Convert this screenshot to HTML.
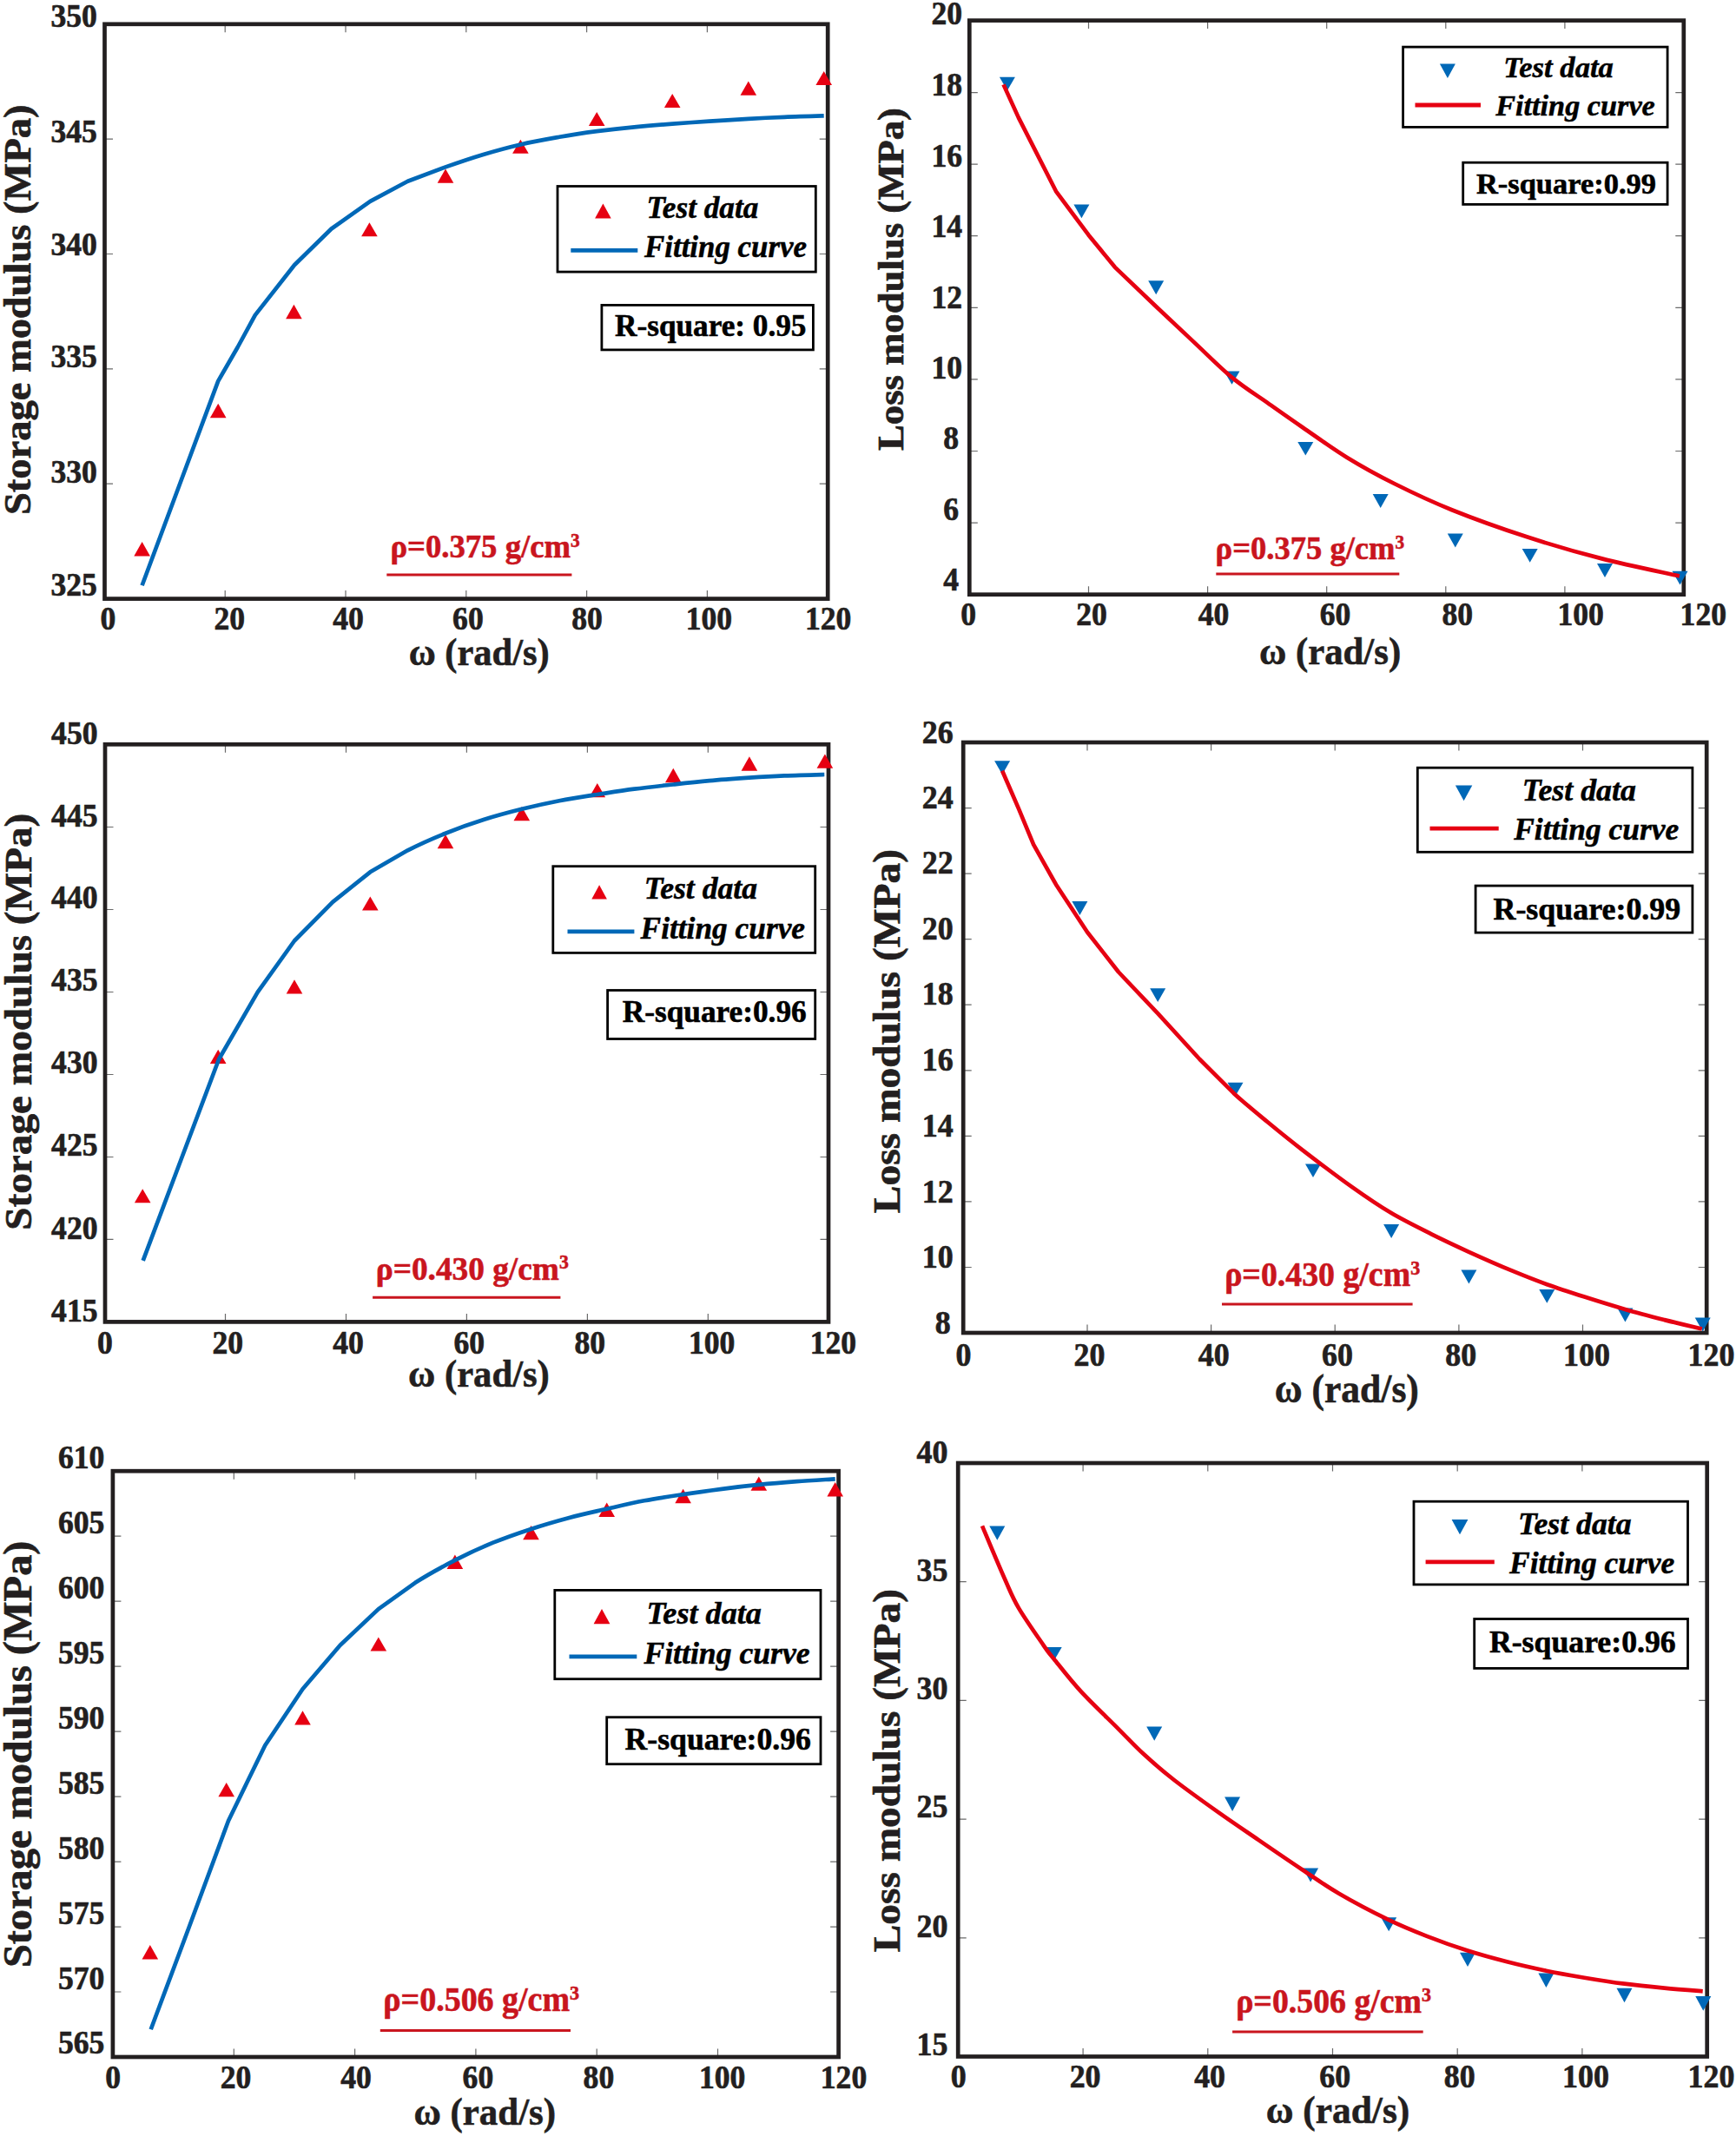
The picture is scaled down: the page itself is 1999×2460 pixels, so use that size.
<!DOCTYPE html>
<html lang="en"><head><meta charset="utf-8"><title>Storage and loss modulus fitting curves</title>
<style>
html,body{margin:0;padding:0;background:#fff}
svg{display:block}
svg text{font-family:"Liberation Serif", "DejaVu Serif", serif;font-weight:bold}
</style></head><body>
<svg width="1999" height="2460" viewBox="0 0 1999 2460">
<rect width="1999" height="2460" fill="#fff"/>
<g>
<path d='M259.2,27.8v9.5 M259.2,689.6v-9.5' stroke='#6a6a6a' stroke-width='1.2' fill='none'/>
<path d='M398.0,27.8v9.5 M398.0,689.6v-9.5' stroke='#6a6a6a' stroke-width='1.2' fill='none'/>
<path d='M536.8,27.8v9.5 M536.8,689.6v-9.5' stroke='#6a6a6a' stroke-width='1.2' fill='none'/>
<path d='M675.6,27.8v9.5 M675.6,689.6v-9.5' stroke='#6a6a6a' stroke-width='1.2' fill='none'/>
<path d='M814.4,27.8v9.5 M814.4,689.6v-9.5' stroke='#6a6a6a' stroke-width='1.2' fill='none'/>
<path d='M120.5,160.2h9.5 M953.2,160.2h-9.5' stroke='#6a6a6a' stroke-width='1.2' fill='none'/>
<path d='M120.5,292.5h9.5 M953.2,292.5h-9.5' stroke='#6a6a6a' stroke-width='1.2' fill='none'/>
<path d='M120.5,424.8h9.5 M953.2,424.8h-9.5' stroke='#6a6a6a' stroke-width='1.2' fill='none'/>
<path d='M120.5,557.2h9.5 M953.2,557.2h-9.5' stroke='#6a6a6a' stroke-width='1.2' fill='none'/>
<rect x='120.5' y='27.8' width='832.7' height='661.8' fill='none' stroke='#231f20' stroke-width='4.7'/>
<polygon points='163.6,624.0 154.3,640.5 172.9,640.5' fill='#e60012'/>
<polygon points='251.2,464.8 241.9,481.2 260.5,481.2' fill='#e60012'/>
<polygon points='338.4,350.8 329.1,367.2 347.7,367.2' fill='#e60012'/>
<polygon points='425.4,256.3 416.1,272.2 434.7,272.2' fill='#e60012'/>
<polygon points='513.0,194.4 503.7,210.7 522.3,210.7' fill='#e60012'/>
<polygon points='599.4,160.7 590.1,176.8 608.7,176.8' fill='#e60012'/>
<polygon points='687.2,129.0 677.9,145.1 696.5,145.1' fill='#e60012'/>
<polygon points='774.2,108.0 764.9,124.1 783.5,124.1' fill='#e60012'/>
<polygon points='861.8,93.6 852.5,109.7 871.1,109.7' fill='#e60012'/>
<polygon points='948.7,82.0 939.4,98.1 958.0,98.1' fill='#e60012'/>
<path d='M163.6,674.2 L207.4,556.5 L251.2,438.9 L273.6,400.0 L293.8,362.9 L339.0,305.3 L381.6,263.5 L426.3,231.9 L469.5,208.8 L513.0,192.4 C527.5,187.3 542.1,182.3 556.5,178.0 C570.9,173.7 584.8,169.9 599.4,166.5 C614.0,163.1 629.4,160.4 644.0,157.8 C658.6,155.2 672.8,153.1 687.2,151.2 C701.6,149.3 715.9,147.7 730.4,146.3 C744.9,144.9 759.8,143.7 774.2,142.6 C788.6,141.5 802.2,140.7 816.8,139.7 C831.4,138.7 847.4,137.6 861.8,136.8 C876.2,136.0 888.7,135.4 903.2,134.8 C917.7,134.2 941.1,133.6 948.7,133.4' stroke='#0068b7' stroke-width='4.7' fill='none' stroke-linejoin='round'/>
<text transform='translate(111.9,31.1) scale(0.95,1)' font-size='37.5' text-anchor='end' fill='#231f20' stroke='#231f20' stroke-width='0.7'>350</text>
<text transform='translate(111.9,163.6) scale(0.95,1)' font-size='37.5' text-anchor='end' fill='#231f20' stroke='#231f20' stroke-width='0.7'>345</text>
<text transform='translate(111.9,293.8) scale(0.95,1)' font-size='37.5' text-anchor='end' fill='#231f20' stroke='#231f20' stroke-width='0.7'>340</text>
<text transform='translate(111.9,423.0) scale(0.95,1)' font-size='37.5' text-anchor='end' fill='#231f20' stroke='#231f20' stroke-width='0.7'>335</text>
<text transform='translate(111.9,555.5) scale(0.95,1)' font-size='37.5' text-anchor='end' fill='#231f20' stroke='#231f20' stroke-width='0.7'>330</text>
<text transform='translate(111.9,686.0) scale(0.95,1)' font-size='37.5' text-anchor='end' fill='#231f20' stroke='#231f20' stroke-width='0.7'>325</text>
<text transform='translate(124.4,724.9) scale(0.95,1)' font-size='37.5' text-anchor='middle' fill='#231f20' stroke='#231f20' stroke-width='0.7'>0</text>
<text transform='translate(264.3,724.9) scale(0.95,1)' font-size='37.5' text-anchor='middle' fill='#231f20' stroke='#231f20' stroke-width='0.7'>20</text>
<text transform='translate(401.0,724.9) scale(0.95,1)' font-size='37.5' text-anchor='middle' fill='#231f20' stroke='#231f20' stroke-width='0.7'>40</text>
<text transform='translate(538.9,724.9) scale(0.95,1)' font-size='37.5' text-anchor='middle' fill='#231f20' stroke='#231f20' stroke-width='0.7'>60</text>
<text transform='translate(676.1,724.9) scale(0.95,1)' font-size='37.5' text-anchor='middle' fill='#231f20' stroke='#231f20' stroke-width='0.7'>80</text>
<text transform='translate(816.4,724.9) scale(0.95,1)' font-size='37.5' text-anchor='middle' fill='#231f20' stroke='#231f20' stroke-width='0.7'>100</text>
<text transform='translate(953.6,724.9) scale(0.95,1)' font-size='37.5' text-anchor='middle' fill='#231f20' stroke='#231f20' stroke-width='0.7'>120</text>
<text transform='translate(470.70,765.80) scale(0.96,1)' font-size='44.24' fill='#231f20' stroke='#231f20' stroke-width='0.6'>ω (rad/s)</text>
<text transform='translate(34.70,593.03) rotate(-90) scale(1,0.94)' font-size='46.50' fill='#231f20' stroke='#231f20' stroke-width='0.7'>Storage modulus (MPa)</text>
<rect x='642.0' y='214.5' width='297.3' height='98.6' fill='#fff' stroke='#000' stroke-width='2.8'/>
<polygon points='694.4,234.5 685.1,251.6 703.7,251.6' fill='#e60012'/>
<text x='744.53' y='251.40' font-size='35.22' font-style='italic' fill='#000' stroke='#000' stroke-width='0.5'>Test data</text>
<text x='742.00' y='296.10' font-size='34.89' font-style='italic' fill='#000' stroke='#000' stroke-width='0.5'>Fitting curve</text>
<path d='M657.3,288.4H734.3' stroke='#0068b7' stroke-width='4.8'/>
<rect x='692.9' y='351.4' width='243.5' height='51.5' fill='#fff' stroke='#000' stroke-width='2.8'/>
<text x='708.10' y='387.40' font-size='35.21' fill='#000' stroke='#000' stroke-width='0.6'>R-square: 0.95</text>
<text transform='translate(449.40,642.00) scale(0.96,1)' font-size='38.22' fill='#c9151e' stroke='#c9151e' stroke-width='0.6'>ρ=0.375 g/cm<tspan font-size='58%' dy='-0.56em'>3</tspan></text>
<path d='M445.3,662.0H658.4' stroke='#c9151e' stroke-width='3'/>
</g>
<g>
<path d='M1253.5,23.6v9.5 M1253.5,684.7v-9.5' stroke='#6a6a6a' stroke-width='1.2' fill='none'/>
<path d='M1390.6,23.6v9.5 M1390.6,684.7v-9.5' stroke='#6a6a6a' stroke-width='1.2' fill='none'/>
<path d='M1527.7,23.6v9.5 M1527.7,684.7v-9.5' stroke='#6a6a6a' stroke-width='1.2' fill='none'/>
<path d='M1664.8,23.6v9.5 M1664.8,684.7v-9.5' stroke='#6a6a6a' stroke-width='1.2' fill='none'/>
<path d='M1801.9,23.6v9.5 M1801.9,684.7v-9.5' stroke='#6a6a6a' stroke-width='1.2' fill='none'/>
<path d='M1116.3,106.6h9.5 M1938.8,106.6h-9.5' stroke='#6a6a6a' stroke-width='1.2' fill='none'/>
<path d='M1116.3,189.2h9.5 M1938.8,189.2h-9.5' stroke='#6a6a6a' stroke-width='1.2' fill='none'/>
<path d='M1116.3,271.7h9.5 M1938.8,271.7h-9.5' stroke='#6a6a6a' stroke-width='1.2' fill='none'/>
<path d='M1116.3,354.3h9.5 M1938.8,354.3h-9.5' stroke='#6a6a6a' stroke-width='1.2' fill='none'/>
<path d='M1116.3,436.9h9.5 M1938.8,436.9h-9.5' stroke='#6a6a6a' stroke-width='1.2' fill='none'/>
<path d='M1116.3,519.5h9.5 M1938.8,519.5h-9.5' stroke='#6a6a6a' stroke-width='1.2' fill='none'/>
<path d='M1116.3,602.1h9.5 M1938.8,602.1h-9.5' stroke='#6a6a6a' stroke-width='1.2' fill='none'/>
<rect x='1116.3' y='23.6' width='822.5' height='661.1' fill='none' stroke='#231f20' stroke-width='4.7'/>
<polygon points='1150.9,88.7 1168.9,88.7 1159.9,104.2' fill='#0068b7'/>
<polygon points='1236.4,235.6 1254.4,235.6 1245.4,251.2' fill='#0068b7'/>
<polygon points='1322.2,323.2 1340.2,323.2 1331.2,339.3' fill='#0068b7'/>
<polygon points='1409.5,427.4 1427.5,427.4 1418.5,442.8' fill='#0068b7'/>
<polygon points='1494.3,508.9 1512.3,508.9 1503.3,524.4' fill='#0068b7'/>
<polygon points='1580.7,569.0 1598.7,569.0 1589.7,585.0' fill='#0068b7'/>
<polygon points='1666.8,614.6 1684.8,614.6 1675.8,630.4' fill='#0068b7'/>
<polygon points='1752.7,631.9 1770.7,631.9 1761.7,647.7' fill='#0068b7'/>
<polygon points='1839.0,649.1 1857.0,649.1 1848.0,665.0' fill='#0068b7'/>
<polygon points='1925.5,657.8 1943.5,657.8 1934.5,673.6' fill='#0068b7'/>
<path d='M1155.5,97.4 L1172.8,135.4 L1216.0,220.3 L1253.5,270.7 L1283.7,307.6 L1331.2,353.0 L1374.4,393.6 C1389.0,407.2 1404.1,422.7 1418.5,434.6 C1432.9,446.5 1447.2,455.2 1460.8,464.8 C1474.4,474.4 1485.0,481.9 1500.0,492.2 C1515.0,502.5 1533.2,515.9 1550.8,526.7 C1568.4,537.5 1585.4,546.9 1605.6,557.0 C1625.8,567.1 1646.4,577.0 1671.8,587.2 C1697.2,597.4 1729.4,608.9 1758.2,618.3 C1787.0,627.7 1815.3,635.9 1844.6,643.4 C1873.9,650.9 1919.0,660.1 1933.9,663.5' stroke='#e60012' stroke-width='4.7' fill='none' stroke-linejoin='round'/>
<text transform='translate(1108.1,28.4) scale(0.95,1)' font-size='37.5' text-anchor='end' fill='#231f20' stroke='#231f20' stroke-width='0.7'>20</text>
<text transform='translate(1108.1,110.2) scale(0.95,1)' font-size='37.5' text-anchor='end' fill='#231f20' stroke='#231f20' stroke-width='0.7'>18</text>
<text transform='translate(1108.1,192.0) scale(0.95,1)' font-size='37.5' text-anchor='end' fill='#231f20' stroke='#231f20' stroke-width='0.7'>16</text>
<text transform='translate(1108.1,273.2) scale(0.95,1)' font-size='37.5' text-anchor='end' fill='#231f20' stroke='#231f20' stroke-width='0.7'>14</text>
<text transform='translate(1108.1,354.7) scale(0.95,1)' font-size='37.5' text-anchor='end' fill='#231f20' stroke='#231f20' stroke-width='0.7'>12</text>
<text transform='translate(1108.1,435.6) scale(0.95,1)' font-size='37.5' text-anchor='end' fill='#231f20' stroke='#231f20' stroke-width='0.7'>10</text>
<text transform='translate(1104.1,517.0) scale(0.95,1)' font-size='37.5' text-anchor='end' fill='#231f20' stroke='#231f20' stroke-width='0.7'>8</text>
<text transform='translate(1104.1,598.7) scale(0.95,1)' font-size='37.5' text-anchor='end' fill='#231f20' stroke='#231f20' stroke-width='0.7'>6</text>
<text transform='translate(1104.1,680.2) scale(0.95,1)' font-size='37.5' text-anchor='end' fill='#231f20' stroke='#231f20' stroke-width='0.7'>4</text>
<text transform='translate(1115.2,720.3) scale(0.95,1)' font-size='37.5' text-anchor='middle' fill='#231f20' stroke='#231f20' stroke-width='0.7'>0</text>
<text transform='translate(1257.0,720.3) scale(0.95,1)' font-size='37.5' text-anchor='middle' fill='#231f20' stroke='#231f20' stroke-width='0.7'>20</text>
<text transform='translate(1397.5,720.3) scale(0.95,1)' font-size='37.5' text-anchor='middle' fill='#231f20' stroke='#231f20' stroke-width='0.7'>40</text>
<text transform='translate(1537.6,720.3) scale(0.95,1)' font-size='37.5' text-anchor='middle' fill='#231f20' stroke='#231f20' stroke-width='0.7'>60</text>
<text transform='translate(1678.3,720.3) scale(0.95,1)' font-size='37.5' text-anchor='middle' fill='#231f20' stroke='#231f20' stroke-width='0.7'>80</text>
<text transform='translate(1820.1,720.3) scale(0.95,1)' font-size='37.5' text-anchor='middle' fill='#231f20' stroke='#231f20' stroke-width='0.7'>100</text>
<text transform='translate(1961.3,720.3) scale(0.95,1)' font-size='37.5' text-anchor='middle' fill='#231f20' stroke='#231f20' stroke-width='0.7'>120</text>
<text transform='translate(1449.89,765.20) scale(0.96,1)' font-size='44.60' fill='#231f20' stroke='#231f20' stroke-width='0.6'>ω (rad/s)</text>
<text transform='translate(1040.00,518.99) rotate(-90) scale(1,0.94)' font-size='44.72' fill='#231f20' stroke='#231f20' stroke-width='0.7'>Loss modulus (MPa)</text>
<rect x='1615.6' y='54.1' width='304.5' height='92.3' fill='#fff' stroke='#000' stroke-width='2.8'/>
<polygon points='1657.9,73.4 1675.9,73.4 1666.9,89.9' fill='#0068b7'/>
<text x='1731.28' y='89.30' font-size='34.63' font-style='italic' fill='#000' stroke='#000' stroke-width='0.5'>Test data</text>
<text x='1722.20' y='133.00' font-size='34.25' font-style='italic' fill='#000' stroke='#000' stroke-width='0.5'>Fitting curve</text>
<path d='M1629.5,121.0H1705.0' stroke='#e60012' stroke-width='4.8'/>
<rect x='1684.7' y='187.2' width='235.4' height='48.2' fill='#fff' stroke='#000' stroke-width='2.8'/>
<text x='1699.91' y='223.20' font-size='34.47' fill='#000' stroke='#000' stroke-width='0.6'>R-square:0.99</text>
<text transform='translate(1399.61,644.20) scale(0.96,1)' font-size='38.10' fill='#c9151e' stroke='#c9151e' stroke-width='0.6'>ρ=0.375 g/cm<tspan font-size='58%' dy='-0.56em'>3</tspan></text>
<path d='M1400.3,661.0H1611.3' stroke='#c9151e' stroke-width='3'/>
</g>
<g>
<path d='M259.5,857.3v9.5 M259.5,1522.4v-9.5' stroke='#6a6a6a' stroke-width='1.2' fill='none'/>
<path d='M398.5,857.3v9.5 M398.5,1522.4v-9.5' stroke='#6a6a6a' stroke-width='1.2' fill='none'/>
<path d='M537.4,857.3v9.5 M537.4,1522.4v-9.5' stroke='#6a6a6a' stroke-width='1.2' fill='none'/>
<path d='M676.4,857.3v9.5 M676.4,1522.4v-9.5' stroke='#6a6a6a' stroke-width='1.2' fill='none'/>
<path d='M815.3,857.3v9.5 M815.3,1522.4v-9.5' stroke='#6a6a6a' stroke-width='1.2' fill='none'/>
<path d='M121.0,952.5h9.5 M954.0,952.5h-9.5' stroke='#6a6a6a' stroke-width='1.2' fill='none'/>
<path d='M121.0,1047.5h9.5 M954.0,1047.5h-9.5' stroke='#6a6a6a' stroke-width='1.2' fill='none'/>
<path d='M121.0,1142.5h9.5 M954.0,1142.5h-9.5' stroke='#6a6a6a' stroke-width='1.2' fill='none'/>
<path d='M121.0,1237.5h9.5 M954.0,1237.5h-9.5' stroke='#6a6a6a' stroke-width='1.2' fill='none'/>
<path d='M121.0,1332.5h9.5 M954.0,1332.5h-9.5' stroke='#6a6a6a' stroke-width='1.2' fill='none'/>
<path d='M121.0,1427.4h9.5 M954.0,1427.4h-9.5' stroke='#6a6a6a' stroke-width='1.2' fill='none'/>
<rect x='121.0' y='857.3' width='833.0' height='665.1' fill='none' stroke='#231f20' stroke-width='4.7'/>
<polygon points='164.2,1369.2 154.9,1385.2 173.5,1385.2' fill='#e60012'/>
<polygon points='251.2,1208.8 241.9,1225.0 260.5,1225.0' fill='#e60012'/>
<polygon points='339.0,1128.2 329.7,1144.6 348.3,1144.6' fill='#e60012'/>
<polygon points='426.3,1032.6 417.0,1048.6 435.6,1048.6' fill='#e60012'/>
<polygon points='513.0,961.1 503.7,977.2 522.3,977.2' fill='#e60012'/>
<polygon points='600.8,928.9 591.5,945.3 610.1,945.3' fill='#e60012'/>
<polygon points='687.8,902.1 678.5,918.2 697.1,918.2' fill='#e60012'/>
<polygon points='775.3,884.8 766.0,901.2 784.6,901.2' fill='#e60012'/>
<polygon points='862.9,871.3 853.6,887.7 872.2,887.7' fill='#e60012'/>
<polygon points='949.9,868.4 940.6,884.8 959.2,884.8' fill='#e60012'/>
<path d='M164.7,1451.9 L208.3,1336.0 L252.0,1220.0 L296.7,1142.6 L339.0,1083.5 L383.1,1038.9 L426.3,1004.3 L469.5,979.3 C483.9,971.9 498.3,965.6 513.0,959.7 C527.7,953.8 543.0,948.4 557.6,943.8 C572.2,939.1 586.4,935.4 600.8,931.8 C615.2,928.2 629.5,925.0 644.0,922.2 C658.5,919.4 673.4,917.2 687.8,915.0 C702.2,912.8 715.8,910.6 730.4,908.7 C745.0,906.8 760.9,905.1 775.3,903.5 C789.7,901.9 802.2,900.5 816.8,899.2 C831.4,897.9 848.5,896.7 862.9,895.7 C877.3,894.7 888.8,894.0 903.2,893.4 C917.6,892.8 941.6,892.2 949.3,892.0' stroke='#0068b7' stroke-width='4.7' fill='none' stroke-linejoin='round'/>
<text transform='translate(112.5,856.9) scale(0.95,1)' font-size='37.5' text-anchor='end' fill='#231f20' stroke='#231f20' stroke-width='0.7'>450</text>
<text transform='translate(112.5,951.9) scale(0.95,1)' font-size='37.5' text-anchor='end' fill='#231f20' stroke='#231f20' stroke-width='0.7'>445</text>
<text transform='translate(112.5,1046.1) scale(0.95,1)' font-size='37.5' text-anchor='end' fill='#231f20' stroke='#231f20' stroke-width='0.7'>440</text>
<text transform='translate(112.5,1141.1) scale(0.95,1)' font-size='37.5' text-anchor='end' fill='#231f20' stroke='#231f20' stroke-width='0.7'>435</text>
<text transform='translate(112.5,1235.8) scale(0.95,1)' font-size='37.5' text-anchor='end' fill='#231f20' stroke='#231f20' stroke-width='0.7'>430</text>
<text transform='translate(112.5,1330.9) scale(0.95,1)' font-size='37.5' text-anchor='end' fill='#231f20' stroke='#231f20' stroke-width='0.7'>425</text>
<text transform='translate(112.5,1426.8) scale(0.95,1)' font-size='37.5' text-anchor='end' fill='#231f20' stroke='#231f20' stroke-width='0.7'>420</text>
<text transform='translate(112.5,1521.8) scale(0.95,1)' font-size='37.5' text-anchor='end' fill='#231f20' stroke='#231f20' stroke-width='0.7'>415</text>
<text transform='translate(121.0,1559.3) scale(0.95,1)' font-size='37.5' text-anchor='middle' fill='#231f20' stroke='#231f20' stroke-width='0.7'>0</text>
<text transform='translate(262.2,1559.3) scale(0.95,1)' font-size='37.5' text-anchor='middle' fill='#231f20' stroke='#231f20' stroke-width='0.7'>20</text>
<text transform='translate(401.0,1559.3) scale(0.95,1)' font-size='37.5' text-anchor='middle' fill='#231f20' stroke='#231f20' stroke-width='0.7'>40</text>
<text transform='translate(540.3,1559.3) scale(0.95,1)' font-size='37.5' text-anchor='middle' fill='#231f20' stroke='#231f20' stroke-width='0.7'>60</text>
<text transform='translate(679.3,1559.3) scale(0.95,1)' font-size='37.5' text-anchor='middle' fill='#231f20' stroke='#231f20' stroke-width='0.7'>80</text>
<text transform='translate(819.7,1559.3) scale(0.95,1)' font-size='37.5' text-anchor='middle' fill='#231f20' stroke='#231f20' stroke-width='0.7'>100</text>
<text transform='translate(959.4,1559.3) scale(0.95,1)' font-size='37.5' text-anchor='middle' fill='#231f20' stroke='#231f20' stroke-width='0.7'>120</text>
<text transform='translate(470.09,1597.30) scale(0.96,1)' font-size='44.46' fill='#231f20' stroke='#231f20' stroke-width='0.6'>ω (rad/s)</text>
<text transform='translate(36.00,1416.76) rotate(-90) scale(1,0.94)' font-size='47.24' fill='#231f20' stroke='#231f20' stroke-width='0.7'>Storage modulus (MPa)</text>
<rect x='636.8' y='997.7' width='301.9' height='99.7' fill='#fff' stroke='#000' stroke-width='2.8'/>
<polygon points='690.1,1019.3 681.3,1035.4 698.9,1035.4' fill='#e60012'/>
<text x='741.71' y='1035.40' font-size='35.62' font-style='italic' fill='#000' stroke='#000' stroke-width='0.5'>Test data</text>
<text x='737.60' y='1080.70' font-size='35.34' font-style='italic' fill='#000' stroke='#000' stroke-width='0.5'>Fitting curve</text>
<path d='M653.5,1072.9H730.4' stroke='#0068b7' stroke-width='4.8'/>
<rect x='699.6' y='1140.5' width='239.1' height='56.0' fill='#fff' stroke='#000' stroke-width='2.8'/>
<text x='716.79' y='1177.10' font-size='35.27' fill='#000' stroke='#000' stroke-width='0.6'>R-square:0.96</text>
<text transform='translate(432.66,1473.50) scale(0.96,1)' font-size='38.90' fill='#c9151e' stroke='#c9151e' stroke-width='0.6'>ρ=0.430 g/cm<tspan font-size='58%' dy='-0.56em'>3</tspan></text>
<path d='M429.1,1494.3H645.4' stroke='#c9151e' stroke-width='3'/>
</g>
<g>
<path d='M1252.0,855.0v9.5 M1252.0,1535.0v-9.5' stroke='#6a6a6a' stroke-width='1.2' fill='none'/>
<path d='M1394.6,855.0v9.5 M1394.6,1535.0v-9.5' stroke='#6a6a6a' stroke-width='1.2' fill='none'/>
<path d='M1537.2,855.0v9.5 M1537.2,1535.0v-9.5' stroke='#6a6a6a' stroke-width='1.2' fill='none'/>
<path d='M1679.9,855.0v9.5 M1679.9,1535.0v-9.5' stroke='#6a6a6a' stroke-width='1.2' fill='none'/>
<path d='M1822.5,855.0v9.5 M1822.5,1535.0v-9.5' stroke='#6a6a6a' stroke-width='1.2' fill='none'/>
<path d='M1109.2,930.6h9.5 M1965.2,930.6h-9.5' stroke='#6a6a6a' stroke-width='1.2' fill='none'/>
<path d='M1109.2,1006.1h9.5 M1965.2,1006.1h-9.5' stroke='#6a6a6a' stroke-width='1.2' fill='none'/>
<path d='M1109.2,1081.7h9.5 M1965.2,1081.7h-9.5' stroke='#6a6a6a' stroke-width='1.2' fill='none'/>
<path d='M1109.2,1157.2h9.5 M1965.2,1157.2h-9.5' stroke='#6a6a6a' stroke-width='1.2' fill='none'/>
<path d='M1109.2,1232.8h9.5 M1965.2,1232.8h-9.5' stroke='#6a6a6a' stroke-width='1.2' fill='none'/>
<path d='M1109.2,1308.4h9.5 M1965.2,1308.4h-9.5' stroke='#6a6a6a' stroke-width='1.2' fill='none'/>
<path d='M1109.2,1383.9h9.5 M1965.2,1383.9h-9.5' stroke='#6a6a6a' stroke-width='1.2' fill='none'/>
<path d='M1109.2,1459.5h9.5 M1965.2,1459.5h-9.5' stroke='#6a6a6a' stroke-width='1.2' fill='none'/>
<rect x='1109.2' y='855.0' width='856.0' height='680.0' fill='none' stroke='#231f20' stroke-width='4.7'/>
<polygon points='1145.1,876.2 1163.1,876.2 1154.1,891.9' fill='#0068b7'/>
<polygon points='1234.4,1038.0 1252.4,1038.0 1243.4,1053.9' fill='#0068b7'/>
<polygon points='1324.2,1138.3 1342.2,1138.3 1333.2,1154.1' fill='#0068b7'/>
<polygon points='1413.5,1246.8 1431.5,1246.8 1422.5,1262.3' fill='#0068b7'/>
<polygon points='1503.0,1340.4 1521.0,1340.4 1512.0,1356.0' fill='#0068b7'/>
<polygon points='1593.1,1410.1 1611.1,1410.1 1602.1,1425.9' fill='#0068b7'/>
<polygon points='1682.4,1462.5 1700.4,1462.5 1691.4,1478.4' fill='#0068b7'/>
<polygon points='1772.3,1485.0 1790.3,1485.0 1781.3,1500.8' fill='#0068b7'/>
<polygon points='1862.4,1506.6 1880.4,1506.6 1871.4,1522.4' fill='#0068b7'/>
<polygon points='1951.7,1517.5 1969.7,1517.5 1960.7,1533.4' fill='#0068b7'/>
<path d='M1154.1,887.7 L1172.8,930.9 L1190.1,972.7 L1216.0,1018.7 L1252.0,1073.5 L1288.0,1119.5 L1333.2,1167.1 L1381.5,1220.0 L1420.5,1258.9 C1433.6,1271.0 1446.9,1281.7 1460.0,1292.5 C1473.1,1303.3 1482.9,1311.4 1499.0,1323.8 C1515.1,1336.2 1539.4,1354.7 1556.6,1366.9 C1573.8,1379.1 1586.7,1388.0 1602.1,1397.1 C1617.5,1406.2 1633.9,1414.1 1648.8,1421.6 C1663.7,1429.0 1676.1,1434.8 1691.4,1441.8 C1706.8,1448.8 1725.9,1457.2 1740.9,1463.4 C1755.9,1469.6 1767.4,1474.2 1781.3,1479.2 C1795.2,1484.2 1809.5,1488.8 1824.5,1493.6 C1839.5,1498.4 1856.1,1503.6 1871.4,1508.0 C1886.8,1512.4 1901.9,1516.3 1916.6,1520.1 C1931.3,1523.8 1952.6,1528.8 1959.8,1530.5' stroke='#e60012' stroke-width='4.7' fill='none' stroke-linejoin='round'/>
<text transform='translate(1097.6,856.1) scale(0.95,1)' font-size='37.8' text-anchor='end' fill='#231f20' stroke='#231f20' stroke-width='0.7'>26</text>
<text transform='translate(1097.6,930.5) scale(0.95,1)' font-size='37.8' text-anchor='end' fill='#231f20' stroke='#231f20' stroke-width='0.7'>24</text>
<text transform='translate(1097.6,1006.0) scale(0.95,1)' font-size='37.8' text-anchor='end' fill='#231f20' stroke='#231f20' stroke-width='0.7'>22</text>
<text transform='translate(1097.6,1081.7) scale(0.95,1)' font-size='37.8' text-anchor='end' fill='#231f20' stroke='#231f20' stroke-width='0.7'>20</text>
<text transform='translate(1097.6,1157.2) scale(0.95,1)' font-size='37.8' text-anchor='end' fill='#231f20' stroke='#231f20' stroke-width='0.7'>18</text>
<text transform='translate(1097.6,1232.5) scale(0.95,1)' font-size='37.8' text-anchor='end' fill='#231f20' stroke='#231f20' stroke-width='0.7'>16</text>
<text transform='translate(1097.6,1308.6) scale(0.95,1)' font-size='37.8' text-anchor='end' fill='#231f20' stroke='#231f20' stroke-width='0.7'>14</text>
<text transform='translate(1097.6,1384.5) scale(0.95,1)' font-size='37.8' text-anchor='end' fill='#231f20' stroke='#231f20' stroke-width='0.7'>12</text>
<text transform='translate(1097.6,1460.2) scale(0.95,1)' font-size='37.8' text-anchor='end' fill='#231f20' stroke='#231f20' stroke-width='0.7'>10</text>
<text transform='translate(1094.8,1536.0) scale(0.95,1)' font-size='37.8' text-anchor='end' fill='#231f20' stroke='#231f20' stroke-width='0.7'>8</text>
<text transform='translate(1109.4,1572.8) scale(0.95,1)' font-size='37.8' text-anchor='middle' fill='#231f20' stroke='#231f20' stroke-width='0.7'>0</text>
<text transform='translate(1254.5,1572.8) scale(0.95,1)' font-size='37.8' text-anchor='middle' fill='#231f20' stroke='#231f20' stroke-width='0.7'>20</text>
<text transform='translate(1397.8,1572.8) scale(0.95,1)' font-size='37.8' text-anchor='middle' fill='#231f20' stroke='#231f20' stroke-width='0.7'>40</text>
<text transform='translate(1540.0,1572.8) scale(0.95,1)' font-size='37.8' text-anchor='middle' fill='#231f20' stroke='#231f20' stroke-width='0.7'>60</text>
<text transform='translate(1682.3,1572.8) scale(0.95,1)' font-size='37.8' text-anchor='middle' fill='#231f20' stroke='#231f20' stroke-width='0.7'>80</text>
<text transform='translate(1827.0,1572.8) scale(0.95,1)' font-size='37.8' text-anchor='middle' fill='#231f20' stroke='#231f20' stroke-width='0.7'>100</text>
<text transform='translate(1970.4,1572.8) scale(0.95,1)' font-size='37.8' text-anchor='middle' fill='#231f20' stroke='#231f20' stroke-width='0.7'>120</text>
<text transform='translate(1467.76,1614.60) scale(0.96,1)' font-size='45.38' fill='#231f20' stroke='#231f20' stroke-width='0.6'>ω (rad/s)</text>
<text transform='translate(1036.00,1397.25) rotate(-90) scale(1,0.94)' font-size='47.48' fill='#231f20' stroke='#231f20' stroke-width='0.7'>Loss modulus (MPa)</text>
<rect x='1632.3' y='884.2' width='316.6' height='97.1' fill='#fff' stroke='#000' stroke-width='2.8'/>
<polygon points='1675.9,904.4 1695.3,904.4 1685.6,922.2' fill='#0068b7'/>
<text x='1752.79' y='921.70' font-size='35.84' font-style='italic' fill='#000' stroke='#000' stroke-width='0.5'>Test data</text>
<text x='1743.20' y='966.90' font-size='35.45' font-style='italic' fill='#000' stroke='#000' stroke-width='0.5'>Fitting curve</text>
<path d='M1646.5,954.2H1725.7' stroke='#e60012' stroke-width='4.8'/>
<rect x='1699.1' y='1020.1' width='249.8' height='54.0' fill='#fff' stroke='#000' stroke-width='2.8'/>
<text x='1719.48' y='1058.50' font-size='35.92' fill='#000' stroke='#000' stroke-width='0.6'>R-square:0.99</text>
<text transform='translate(1410.13,1480.70) scale(0.96,1)' font-size='39.40' fill='#c9151e' stroke='#c9151e' stroke-width='0.6'>ρ=0.430 g/cm<tspan font-size='58%' dy='-0.56em'>3</tspan></text>
<path d='M1407.0,1502.0H1626.6' stroke='#c9151e' stroke-width='3'/>
</g>
<g>
<path d='M269.3,1694.2v9.5 M269.3,2369.0v-9.5' stroke='#6a6a6a' stroke-width='1.2' fill='none'/>
<path d='M408.6,1694.2v9.5 M408.6,2369.0v-9.5' stroke='#6a6a6a' stroke-width='1.2' fill='none'/>
<path d='M547.9,1694.2v9.5 M547.9,2369.0v-9.5' stroke='#6a6a6a' stroke-width='1.2' fill='none'/>
<path d='M687.2,1694.2v9.5 M687.2,2369.0v-9.5' stroke='#6a6a6a' stroke-width='1.2' fill='none'/>
<path d='M826.5,1694.2v9.5 M826.5,2369.0v-9.5' stroke='#6a6a6a' stroke-width='1.2' fill='none'/>
<path d='M129.9,1769.2h9.5 M965.6,1769.2h-9.5' stroke='#6a6a6a' stroke-width='1.2' fill='none'/>
<path d='M129.9,1844.2h9.5 M965.6,1844.2h-9.5' stroke='#6a6a6a' stroke-width='1.2' fill='none'/>
<path d='M129.9,1919.1h9.5 M965.6,1919.1h-9.5' stroke='#6a6a6a' stroke-width='1.2' fill='none'/>
<path d='M129.9,1994.1h9.5 M965.6,1994.1h-9.5' stroke='#6a6a6a' stroke-width='1.2' fill='none'/>
<path d='M129.9,2069.1h9.5 M965.6,2069.1h-9.5' stroke='#6a6a6a' stroke-width='1.2' fill='none'/>
<path d='M129.9,2144.1h9.5 M965.6,2144.1h-9.5' stroke='#6a6a6a' stroke-width='1.2' fill='none'/>
<path d='M129.9,2219.1h9.5 M965.6,2219.1h-9.5' stroke='#6a6a6a' stroke-width='1.2' fill='none'/>
<path d='M129.9,2294.0h9.5 M965.6,2294.0h-9.5' stroke='#6a6a6a' stroke-width='1.2' fill='none'/>
<rect x='129.9' y='1694.2' width='835.7' height='674.8' fill='none' stroke='#231f20' stroke-width='4.7'/>
<polygon points='172.8,2240.1 163.5,2256.5 182.1,2256.5' fill='#e60012'/>
<polygon points='260.7,2052.9 251.4,2069.3 270.0,2069.3' fill='#e60012'/>
<polygon points='348.5,1970.3 339.2,1986.4 357.8,1986.4' fill='#e60012'/>
<polygon points='435.8,1885.6 426.5,1901.6 445.1,1901.6' fill='#e60012'/>
<polygon points='523.9,1790.6 514.6,1807.0 533.2,1807.0' fill='#e60012'/>
<polygon points='611.5,1757.1 602.2,1773.3 620.8,1773.3' fill='#e60012'/>
<polygon points='698.7,1730.6 689.4,1747.1 708.0,1747.1' fill='#e60012'/>
<polygon points='786.6,1714.8 777.3,1731.2 795.9,1731.2' fill='#e60012'/>
<polygon points='873.8,1700.4 864.5,1716.8 883.1,1716.8' fill='#e60012'/>
<polygon points='961.7,1707.0 952.4,1723.4 971.0,1723.4' fill='#e60012'/>
<path d='M173.7,2337.2 L217.5,2220.0 L263.0,2097.0 L285.8,2050.0 L305.3,2010.0 L348.5,1945.2 L391.7,1894.8 L435.8,1853.1 L478.1,1822.8 C492.8,1813.4 509.0,1804.6 523.9,1796.9 C538.8,1789.2 553.1,1782.7 567.7,1776.7 C582.3,1770.7 596.9,1765.7 611.5,1760.9 C626.1,1756.1 641.0,1751.8 655.5,1747.9 C670.0,1744.1 684.3,1741.1 698.7,1737.8 C713.1,1734.5 727.2,1731.1 741.9,1728.3 C756.5,1725.5 771.7,1723.3 786.6,1721.1 C801.5,1718.8 816.7,1716.7 831.2,1714.8 C845.7,1712.9 859.4,1711.3 873.8,1709.9 C888.2,1708.5 903.0,1707.3 917.6,1706.2 C932.2,1705.1 954.4,1703.8 961.7,1703.3' stroke='#0068b7' stroke-width='4.7' fill='none' stroke-linejoin='round'/>
<text transform='translate(120.3,1691.3) scale(0.95,1)' font-size='37.5' text-anchor='end' fill='#231f20' stroke='#231f20' stroke-width='0.7'>610</text>
<text transform='translate(120.3,1766.2) scale(0.95,1)' font-size='37.5' text-anchor='end' fill='#231f20' stroke='#231f20' stroke-width='0.7'>605</text>
<text transform='translate(120.3,1841.1) scale(0.95,1)' font-size='37.5' text-anchor='end' fill='#231f20' stroke='#231f20' stroke-width='0.7'>600</text>
<text transform='translate(120.3,1916.0) scale(0.95,1)' font-size='37.5' text-anchor='end' fill='#231f20' stroke='#231f20' stroke-width='0.7'>595</text>
<text transform='translate(120.3,1990.9) scale(0.95,1)' font-size='37.5' text-anchor='end' fill='#231f20' stroke='#231f20' stroke-width='0.7'>590</text>
<text transform='translate(120.3,2065.8) scale(0.95,1)' font-size='37.5' text-anchor='end' fill='#231f20' stroke='#231f20' stroke-width='0.7'>585</text>
<text transform='translate(120.3,2140.7) scale(0.95,1)' font-size='37.5' text-anchor='end' fill='#231f20' stroke='#231f20' stroke-width='0.7'>580</text>
<text transform='translate(120.3,2215.6) scale(0.95,1)' font-size='37.5' text-anchor='end' fill='#231f20' stroke='#231f20' stroke-width='0.7'>575</text>
<text transform='translate(120.3,2290.5) scale(0.95,1)' font-size='37.5' text-anchor='end' fill='#231f20' stroke='#231f20' stroke-width='0.7'>570</text>
<text transform='translate(120.3,2365.4) scale(0.95,1)' font-size='37.5' text-anchor='end' fill='#231f20' stroke='#231f20' stroke-width='0.7'>565</text>
<text transform='translate(130.2,2405.0) scale(0.95,1)' font-size='37.5' text-anchor='middle' fill='#231f20' stroke='#231f20' stroke-width='0.7'>0</text>
<text transform='translate(271.5,2405.0) scale(0.95,1)' font-size='37.5' text-anchor='middle' fill='#231f20' stroke='#231f20' stroke-width='0.7'>20</text>
<text transform='translate(410.1,2405.0) scale(0.95,1)' font-size='37.5' text-anchor='middle' fill='#231f20' stroke='#231f20' stroke-width='0.7'>40</text>
<text transform='translate(550.4,2405.0) scale(0.95,1)' font-size='37.5' text-anchor='middle' fill='#231f20' stroke='#231f20' stroke-width='0.7'>60</text>
<text transform='translate(689.4,2405.0) scale(0.95,1)' font-size='37.5' text-anchor='middle' fill='#231f20' stroke='#231f20' stroke-width='0.7'>80</text>
<text transform='translate(831.6,2405.0) scale(0.95,1)' font-size='37.5' text-anchor='middle' fill='#231f20' stroke='#231f20' stroke-width='0.7'>100</text>
<text transform='translate(971.5,2405.0) scale(0.95,1)' font-size='37.5' text-anchor='middle' fill='#231f20' stroke='#231f20' stroke-width='0.7'>120</text>
<text transform='translate(476.38,2447.40) scale(0.96,1)' font-size='44.71' fill='#231f20' stroke='#231f20' stroke-width='0.6'>ω (rad/s)</text>
<text transform='translate(36.00,2266.12) rotate(-90) scale(1,0.94)' font-size='48.36' fill='#231f20' stroke='#231f20' stroke-width='0.7'>Storage modulus (MPa)</text>
<rect x='638.8' y='1831.4' width='306.2' height='102.3' fill='#fff' stroke='#000' stroke-width='2.8'/>
<polygon points='693.0,1853.1 683.6,1870.3 702.4,1870.3' fill='#e60012'/>
<text x='744.57' y='1869.80' font-size='36.18' font-style='italic' fill='#000' stroke='#000' stroke-width='0.5'>Test data</text>
<text x='741.40' y='1915.60' font-size='35.69' font-style='italic' fill='#000' stroke='#000' stroke-width='0.5'>Fitting curve</text>
<path d='M655.5,1907.8H733.3' stroke='#0068b7' stroke-width='4.8'/>
<rect x='698.7' y='1977.7' width='246.3' height='54.0' fill='#fff' stroke='#000' stroke-width='2.8'/>
<text x='719.59' y='2015.20' font-size='35.67' fill='#000' stroke='#000' stroke-width='0.6'>R-square:0.96</text>
<text transform='translate(441.22,2316.10) scale(0.96,1)' font-size='39.57' fill='#c9151e' stroke='#c9151e' stroke-width='0.6'>ρ=0.506 g/cm<tspan font-size='58%' dy='-0.56em'>3</tspan></text>
<path d='M437.8,2338.4H657.0' stroke='#c9151e' stroke-width='3'/>
</g>
<g>
<path d='M1247.1,1685.0v9.5 M1247.1,2368.5v-9.5' stroke='#6a6a6a' stroke-width='1.2' fill='none'/>
<path d='M1390.8,1685.0v9.5 M1390.8,2368.5v-9.5' stroke='#6a6a6a' stroke-width='1.2' fill='none'/>
<path d='M1534.5,1685.0v9.5 M1534.5,2368.5v-9.5' stroke='#6a6a6a' stroke-width='1.2' fill='none'/>
<path d='M1678.2,1685.0v9.5 M1678.2,2368.5v-9.5' stroke='#6a6a6a' stroke-width='1.2' fill='none'/>
<path d='M1821.9,1685.0v9.5 M1821.9,2368.5v-9.5' stroke='#6a6a6a' stroke-width='1.2' fill='none'/>
<path d='M1103.2,1821.7h9.5 M1965.7,1821.7h-9.5' stroke='#6a6a6a' stroke-width='1.2' fill='none'/>
<path d='M1103.2,1958.4h9.5 M1965.7,1958.4h-9.5' stroke='#6a6a6a' stroke-width='1.2' fill='none'/>
<path d='M1103.2,2095.1h9.5 M1965.7,2095.1h-9.5' stroke='#6a6a6a' stroke-width='1.2' fill='none'/>
<path d='M1103.2,2231.8h9.5 M1965.7,2231.8h-9.5' stroke='#6a6a6a' stroke-width='1.2' fill='none'/>
<rect x='1103.2' y='1685.0' width='862.5' height='683.5' fill='none' stroke='#231f20' stroke-width='4.7'/>
<polygon points='1139.3,1757.4 1157.3,1757.4 1148.3,1773.8' fill='#0068b7'/>
<polygon points='1204.7,1897.1 1222.7,1897.1 1213.7,1912.6' fill='#0068b7'/>
<polygon points='1320.2,1988.4 1338.2,1988.4 1329.2,2004.8' fill='#0068b7'/>
<polygon points='1410.1,2069.6 1428.1,2069.6 1419.1,2086.0' fill='#0068b7'/>
<polygon points='1500.1,2151.6 1518.1,2151.6 1509.1,2167.4' fill='#0068b7'/>
<polygon points='1590.2,2208.3 1608.2,2208.3 1599.2,2224.2' fill='#0068b7'/>
<polygon points='1681.0,2248.7 1699.0,2248.7 1690.0,2265.1' fill='#0068b7'/>
<polygon points='1771.4,2272.6 1789.4,2272.6 1780.4,2289.0' fill='#0068b7'/>
<polygon points='1861.5,2289.8 1879.5,2289.8 1870.5,2306.3' fill='#0068b7'/>
<polygon points='1952.3,2299.1 1970.3,2299.1 1961.3,2315.8' fill='#0068b7'/>
<path d='M1131.0,1757.4 C1135.3,1767.6 1150.0,1802.8 1157.0,1818.5 C1164.0,1834.2 1165.4,1838.9 1172.8,1851.6 C1180.2,1864.3 1194.8,1884.9 1201.6,1894.8 C1208.4,1904.7 1206.5,1901.8 1213.7,1910.7 C1220.9,1919.6 1232.4,1934.7 1244.8,1948.1 C1257.2,1961.5 1276.0,1979.3 1288.0,1991.3 C1300.0,2003.3 1306.1,2010.3 1316.8,2020.1 C1327.5,2029.9 1337.6,2038.8 1352.0,2050.0 C1366.4,2061.2 1387.0,2075.9 1403.2,2087.4 C1419.4,2098.9 1433.2,2108.1 1449.3,2119.1 C1465.3,2130.1 1484.0,2142.9 1499.5,2153.2 C1515.0,2163.5 1525.6,2171.3 1542.2,2181.0 C1558.8,2190.7 1582.4,2203.0 1599.2,2211.2 C1616.0,2219.3 1627.9,2224.0 1643.0,2229.9 C1658.1,2235.8 1674.6,2241.7 1690.0,2246.6 C1705.4,2251.5 1720.1,2255.5 1735.2,2259.3 C1750.3,2263.2 1765.5,2266.6 1780.4,2269.7 C1795.3,2272.8 1809.5,2275.2 1824.5,2277.7 C1839.5,2280.2 1855.2,2282.7 1870.5,2284.7 C1885.8,2286.7 1901.6,2288.2 1916.6,2289.6 C1931.6,2291.0 1953.3,2292.7 1960.7,2293.3' stroke='#e60012' stroke-width='4.7' fill='none' stroke-linejoin='round'/>
<text transform='translate(1091.4,1684.5) scale(0.95,1)' font-size='37.8' text-anchor='end' fill='#231f20' stroke='#231f20' stroke-width='0.7'>40</text>
<text transform='translate(1091.4,1820.9) scale(0.95,1)' font-size='37.8' text-anchor='end' fill='#231f20' stroke='#231f20' stroke-width='0.7'>35</text>
<text transform='translate(1091.4,1957.4) scale(0.95,1)' font-size='37.8' text-anchor='end' fill='#231f20' stroke='#231f20' stroke-width='0.7'>30</text>
<text transform='translate(1091.4,2093.1) scale(0.95,1)' font-size='37.8' text-anchor='end' fill='#231f20' stroke='#231f20' stroke-width='0.7'>25</text>
<text transform='translate(1091.4,2230.9) scale(0.95,1)' font-size='37.8' text-anchor='end' fill='#231f20' stroke='#231f20' stroke-width='0.7'>20</text>
<text transform='translate(1091.4,2367.2) scale(0.95,1)' font-size='37.8' text-anchor='end' fill='#231f20' stroke='#231f20' stroke-width='0.7'>15</text>
<text transform='translate(1103.7,2403.5) scale(0.95,1)' font-size='37.8' text-anchor='middle' fill='#231f20' stroke='#231f20' stroke-width='0.7'>0</text>
<text transform='translate(1249.6,2403.5) scale(0.95,1)' font-size='37.8' text-anchor='middle' fill='#231f20' stroke='#231f20' stroke-width='0.7'>20</text>
<text transform='translate(1393.1,2403.5) scale(0.95,1)' font-size='37.8' text-anchor='middle' fill='#231f20' stroke='#231f20' stroke-width='0.7'>40</text>
<text transform='translate(1537.2,2403.5) scale(0.95,1)' font-size='37.8' text-anchor='middle' fill='#231f20' stroke='#231f20' stroke-width='0.7'>60</text>
<text transform='translate(1680.7,2403.5) scale(0.95,1)' font-size='37.8' text-anchor='middle' fill='#231f20' stroke='#231f20' stroke-width='0.7'>80</text>
<text transform='translate(1825.9,2403.5) scale(0.95,1)' font-size='37.8' text-anchor='middle' fill='#231f20' stroke='#231f20' stroke-width='0.7'>100</text>
<text transform='translate(1970.4,2403.5) scale(0.95,1)' font-size='37.8' text-anchor='middle' fill='#231f20' stroke='#231f20' stroke-width='0.7'>120</text>
<text transform='translate(1457.66,2445.30) scale(0.96,1)' font-size='45.24' fill='#231f20' stroke='#231f20' stroke-width='0.6'>ω (rad/s)</text>
<text transform='translate(1036.00,2248.25) rotate(-90) scale(1,0.94)' font-size='47.35' fill='#231f20' stroke='#231f20' stroke-width='0.7'>Loss modulus (MPa)</text>
<rect x='1628.0' y='1729.2' width='315.5' height='95.7' fill='#fff' stroke='#000' stroke-width='2.8'/>
<polygon points='1671.6,1749.9 1690.4,1749.9 1681.0,1767.2' fill='#0068b7'/>
<text x='1747.90' y='1766.60' font-size='35.76' font-style='italic' fill='#000' stroke='#000' stroke-width='0.5'>Test data</text>
<text x='1738.10' y='1811.90' font-size='35.49' font-style='italic' fill='#000' stroke='#000' stroke-width='0.5'>Fitting curve</text>
<path d='M1641.6,1798.9H1720.8' stroke='#e60012' stroke-width='4.8'/>
<rect x='1697.7' y='1864.5' width='245.8' height='56.9' fill='#fff' stroke='#000' stroke-width='2.8'/>
<text x='1714.88' y='1902.90' font-size='35.76' fill='#000' stroke='#000' stroke-width='0.6'>R-square:0.96</text>
<text transform='translate(1423.13,2317.80) scale(0.96,1)' font-size='39.38' fill='#c9151e' stroke='#c9151e' stroke-width='0.6'>ρ=0.506 g/cm<tspan font-size='58%' dy='-0.56em'>3</tspan></text>
<path d='M1419.1,2340.0H1638.7' stroke='#c9151e' stroke-width='3'/>
</g>
</svg>
</body></html>
